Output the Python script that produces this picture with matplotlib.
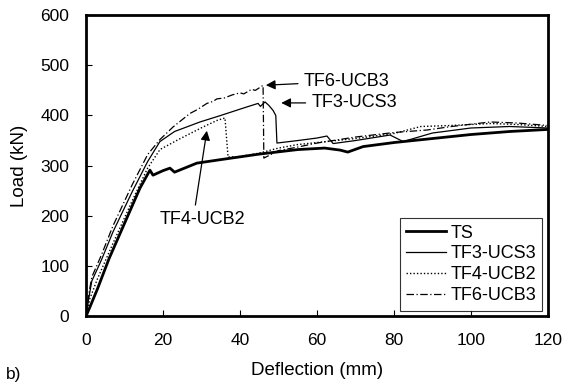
import matplotlib
matplotlib.use("Agg")
import matplotlib.pyplot as plt

plt.rcParams["font.family"] = ["Liberation Sans", "DejaVu Sans"]

# TS (reference specimen)
ts_x = [0, 1, 3, 6, 10, 14, 16.6, 17.4, 20, 21.8, 23, 28.8, 35, 45, 55, 62, 66, 68, 72, 80, 90, 100, 110, 119.7]
ts_y = [0, 18, 55, 115, 185, 255, 291, 281, 290, 295, 287, 305, 312, 323, 332, 335, 331, 327, 338, 346, 354, 362, 368, 372]

# TF3-UCS3
tf3_x = [0, 0.8, 1.5, 4, 7, 12, 16, 19.2, 23, 29.6, 35, 41.8, 44.7, 45.3, 46.5, 47.5, 48.6, 49.3, 49.6, 55,
         60, 62.6, 64.2, 70, 79, 82.4, 90, 100, 110, 120]
tf3_y = [0, 40, 70, 112, 168, 248, 308, 348, 368, 387, 400, 417, 424, 418, 427, 420, 410, 400, 345, 350,
         355, 359, 344, 350, 361, 348, 365, 375, 378, 375]

# TF4-UCB2
tf4_x = [0, 1, 3, 7, 12, 16, 19.2, 24, 30.4, 34, 36.1, 36.9, 40, 45, 50, 55, 60, 70, 80, 87, 95, 105, 112, 120]
tf4_y = [0, 35, 75, 145, 230, 295, 332, 352, 377, 390, 395, 317, 318, 325, 335, 342, 346, 354, 364, 378, 380, 384, 382, 378]

# TF6-UCB3
tf6_x = [0, 0.8, 1.5, 4, 7, 12, 16, 19.2, 22.6, 27, 29, 31.4, 33, 34, 36, 38, 40, 41, 43, 44, 46, 46.2,
         50, 55, 60, 70, 80, 88.6, 95, 105, 112, 120]
tf6_y = [0, 48, 78, 122, 180, 262, 322, 352, 377, 404, 412, 424, 428, 433, 435, 441, 445, 443, 452, 450, 460, 315,
         330, 337, 345, 357, 366, 371, 378, 387, 385, 380]

fig, ax = plt.subplots(figsize=(5.66, 3.87), dpi=100)
fig.subplots_adjust(left=0.152, right=0.968, top=0.961, bottom=0.183)

ax.plot(ts_x, ts_y, color="black", lw=2.0, label="TS")
ax.plot(tf3_x, tf3_y, color="black", lw=0.9, label="TF3-UCS3")
ax.plot(tf4_x, tf4_y, color="black", lw=1.0, ls=(0, (1, 1.5)), label="TF4-UCB2")
ax.plot(tf6_x, tf6_y, color="black", lw=0.9, ls=(0, (6, 2, 1, 2)), label="TF6-UCB3")

ax.set_xlim(0, 120)
ax.set_ylim(0, 600)
ax.set_xticks(range(0, 121, 20))
ax.set_yticks(range(0, 601, 100))
ax.tick_params(direction="in", length=4, width=0.8, labelsize=12.5, pad=12)
for sp in ax.spines.values():
    sp.set_linewidth(2)

ax.set_xlabel("Deflection (mm)", fontsize=13.5, labelpad=10)
ax.set_ylabel("Load (kN)", fontsize=13.5, labelpad=9)

arrow = dict(arrowstyle="-|>", color="black", lw=0.9, mutation_scale=14)
ax.annotate("TF6-UCB3", xy=(46, 460), xytext=(56.5, 468), fontsize=13,
            va="center", arrowprops=arrow)
ax.annotate("TF3-UCS3", xy=(50, 425), xytext=(58.5, 425), fontsize=13,
            va="center", arrowprops=arrow)
ax.text(30.2, 192, "TF4-UCB2", fontsize=13, ha="center", va="center")
ax.annotate("", xy=(31.5, 375), xytext=(28.3, 216), arrowprops=arrow)

leg = ax.legend(loc="lower right", fontsize=13, frameon=True, fancybox=False,
                edgecolor="black", handlelength=2.2, handletextpad=0.25,
                labelspacing=0.22, borderpad=0.35, borderaxespad=0.3)
leg.get_frame().set_linewidth(0.8)

fig.text(0.01, 0.02, "b)", fontsize=12.5)

fig.savefig("out.png", dpi=100)
